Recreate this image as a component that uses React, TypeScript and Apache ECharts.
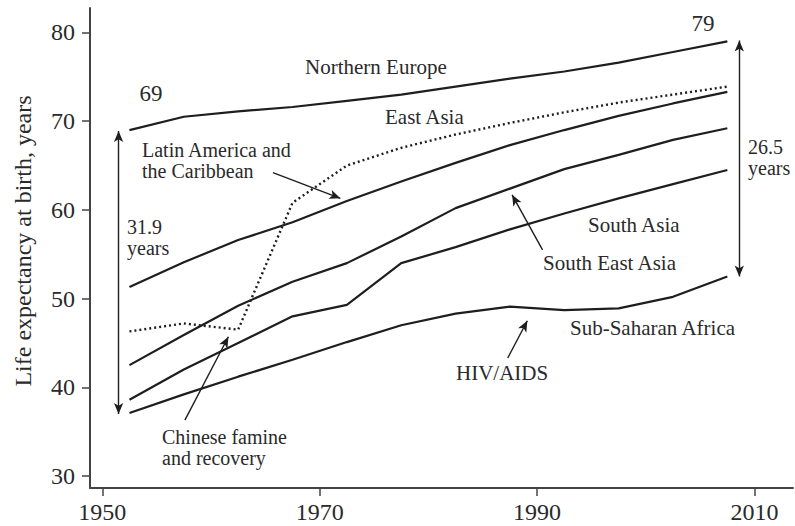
import React, { useEffect, useRef } from "react";
import * as echarts from "echarts";

const years = [1952.5, 1957.5, 1962.5, 1967.5, 1972.5, 1977.5, 1982.5, 1987.5, 1992.5, 1997.5, 2002.5, 2007.5];
const northernEurope = [69.0, 70.5, 71.1, 71.6, 72.3, 73.0, 73.9, 74.8, 75.6, 76.6, 77.8, 79.0];
const eastAsia = [46.3, 47.2, 46.5, 60.8, 65.0, 67.0, 68.5, 69.8, 71.0, 72.1, 73.0, 73.9];
const latinAmerica = [51.3, 54.1, 56.6, 58.6, 61.0, 63.2, 65.3, 67.3, 69.0, 70.6, 72.0, 73.3];
const southEastAsia = [42.5, 45.9, 49.2, 51.9, 54.0, 57.0, 60.2, 62.4, 64.6, 66.2, 67.9, 69.2];
const southAsia = [38.6, 42.0, 45.0, 48.0, 49.3, 54.0, 55.8, 57.8, 59.6, 61.3, 62.9, 64.5];
const subSaharanAfrica = [37.1, 39.2, 41.2, 43.1, 45.1, 47.0, 48.3, 49.1, 48.7, 48.9, 50.2, 52.5];

const xTicks = [1950, 1970, 1990, 2010];
const yTicks = [30, 40, 50, 60, 70, 80];

const FONT = "Liberation Serif";
const INK = "#1e1e1e";
const TXT = "#2a2a2a";

function pairs(vals: number[]) {
  return years.map((y, i) => [y, vals[i]]);
}

export default function App() {
  const ref = useRef<HTMLDivElement>(null);
  useEffect(() => {
    if (!ref.current) return;
    const chart = echarts.init(ref.current, null, { renderer: "svg" });
    const solid = (name: string, vals: number[], extra: any = {}) => ({
      name,
      type: "line",
      data: pairs(vals),
      symbol: "none",
      lineStyle: { color: INK, width: 2.2 },
      emphasis: { disabled: true },
      silent: true,
      ...extra,
    });
    const txt = (text: string, x: number, y: number, extra: any = {}) => ({
      type: "text",
      x,
      y,
      silent: true,
      style: {
        text,
        fill: TXT,
        font: `21px "${FONT}"`,
        textVerticalAlign: "middle",
        ...extra,
      },
    });
    const small = { font: `20px "${FONT}"` };
    chart.setOption({
      animation: false,
      grid: { left: 90, top: 8, width: 703, height: 480, containLabel: false },
      xAxis: {
        type: "value",
        min: 1948.87,
        max: 2013.54,
        splitLine: { show: false },
        axisLine: { lineStyle: { color: "#444", width: 2 } },
        axisTick: { show: true, length: 8, lineStyle: { color: "#444", width: 1.5 }, customValues: xTicks },
        axisLabel: {
          customValues: xTicks,
          formatter: (v: number) => String(v),
          color: TXT,
          fontFamily: FONT,
          fontSize: 24,
          margin: 12,
        },
      },
      yAxis: {
        type: "value",
        min: 28.65,
        max: 82.76,
        splitLine: { show: false },
        axisLine: { show: true, lineStyle: { color: "#444", width: 2 } },
        axisTick: { show: true, length: 8, lineStyle: { color: "#444", width: 1.5 }, customValues: yTicks },
        axisLabel: {
          customValues: yTicks,
          formatter: (v: number) => String(v),
          color: TXT,
          fontFamily: FONT,
          fontSize: 24,
          margin: 15,
        },
      },
      series: [
        solid("Northern Europe", northernEurope),
        solid("East Asia", eastAsia, { lineStyle: { color: INK, width: 2.4, type: [2, 3] } }),
        solid("Latin America and the Caribbean", latinAmerica),
        solid("South East Asia", southEastAsia),
        solid("South Asia", southAsia),
        solid("Sub-Saharan Africa", subSaharanAfrica, {
          markLine: {
            silent: true,
            symbol: ["none", "arrow"],
            symbolSize: [7, 11],
            label: { show: false },
            emphasis: { disabled: true },
            lineStyle: { color: INK, width: 1.4, type: "solid" },
            data: [
              [{ coord: [1951.5, 68.9], symbol: "arrow" }, { coord: [1951.5, 37.0] }],
              [{ coord: [2008.6, 79.1], symbol: "arrow" }, { coord: [2008.6, 52.5] }],
              [{ coord: [1965.7, 64.2] }, { coord: [1971.9, 61.3] }],
              [{ coord: [1990.5, 55.5] }, { coord: [1987.7, 61.7] }],
              [{ coord: [1987.3, 43.3] }, { coord: [1989.1, 47.5] }],
              [{ coord: [1957.6, 36.3] }, { coord: [1961.6, 45.7] }],
            ],
          },
        }),
      ],
      graphic: [
        {
          ...txt("Life expectancy at birth, years", 23, 241, {
            textAlign: "center",
            font: `24px "${FONT}"`,
          }),
          rotation: Math.PI / 2,
        },
        txt("69", 151, 93, { textAlign: "center", font: `23px "${FONT}"` }),
        txt("79", 703, 23, { textAlign: "center", font: `23px "${FONT}"` }),
        txt("Northern Europe", 305, 67),
        txt("East Asia", 385, 117),
        txt("Latin America and", 142, 150, small),
        txt("the Caribbean", 142, 171, small),
        txt("31.9", 127, 227, small),
        txt("years", 127, 248, small),
        txt("26.5", 748, 147, small),
        txt("years", 748, 168, small),
        txt("South Asia", 588, 225),
        txt("South East Asia", 543, 263),
        txt("Sub-Saharan Africa", 570, 328),
        txt("HIV/AIDS", 456, 373),
        txt("Chinese famine", 162, 437, small),
        txt("and recovery", 162, 458, small),
      ],
    });
    return () => chart.dispose();
  }, []);
  return (
    <div
      ref={ref}
      style={{ position: "fixed", left: 0, top: 0, width: 795, height: 526, background: "#fff" }}
    />
  );
}
